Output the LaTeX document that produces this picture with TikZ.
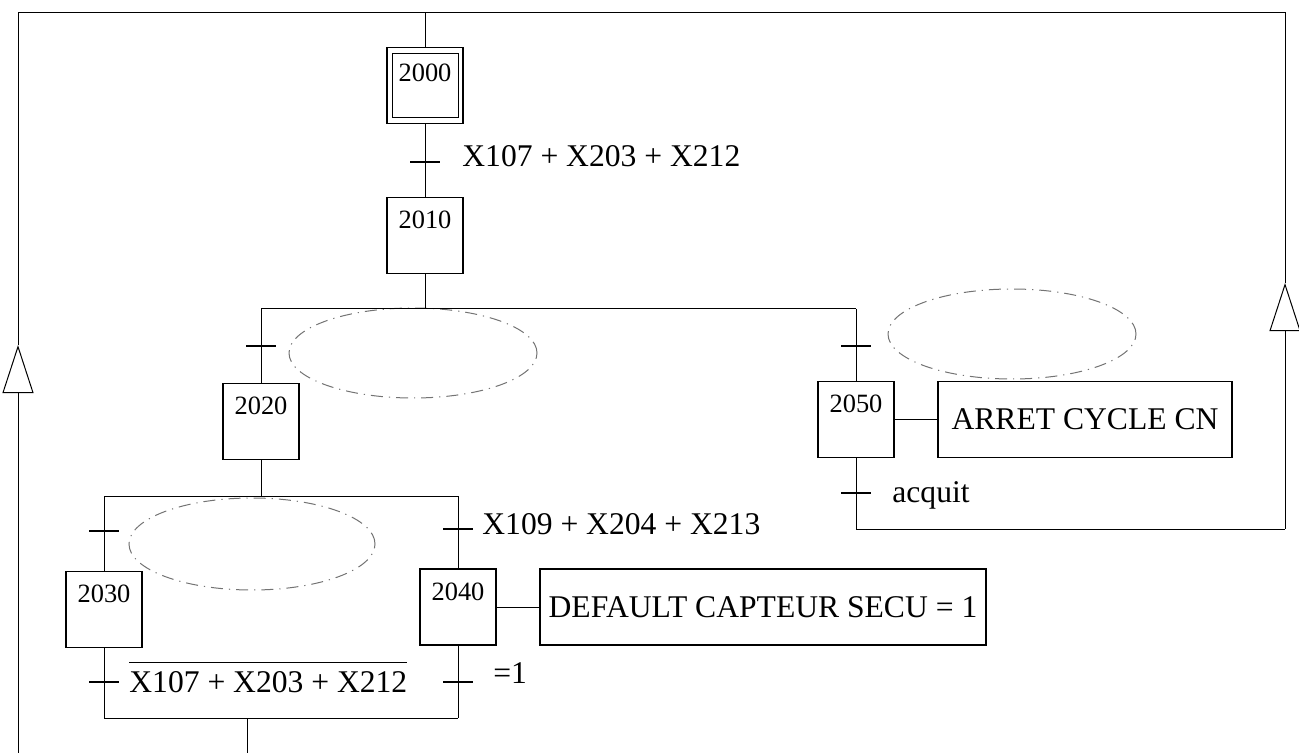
\documentclass[tikz,border=0pt]{standalone}
\usepackage{fontspec}
\setmainfont{Liberation Serif}
\usetikzlibrary{arrows.meta,shapes.geometric}
\newcommand{\condfont}{\fontsize{15.8pt}{19pt}\selectfont}
\newcommand{\numfont}{\fontsize{13.2pt}{16pt}\selectfont}
\tikzset{
  etape/.style={rectangle, draw=black, line width=0.7pt,
                minimum width=38pt, minimum height=38pt, inner sep=0pt,
                text height=15.5pt, text depth=22.5pt, font=\numfont},
  action/.style={rectangle, draw=black, line width=0.6pt,
                 minimum height=38pt, inner sep=0pt, font=\condfont},
  trans/.style={rectangle, fill=black, minimum width=15pt,
                minimum height=0.7pt, inner sep=0pt},
  cond/.style={anchor=base west, inner sep=0pt, font=\condfont},
  zone/.style={ellipse, draw=black!55, line width=0.5pt, inner sep=0pt,
               dash pattern=on 6pt off 3pt on 0.6pt off 3pt},
  lien/.style={line width=0.5pt},
  retour/.style={lien, -{Triangle[open, length=24pt, width=15.5pt]}},
}

\begin{document}
\begin{tikzpicture}[
    x=0.5pt,
    y=-0.5pt,
  ]
    \useasboundingbox (0,0) rectangle (1299,753);

    % Main axis: initial step, first transition, step 2010
    \coordinate (haut)  at (425,13);
    \coordinate (hautG) at (18,13);
    \coordinate (hautD) at (1285,13);
    \node[etape, text height=17pt, text depth=21pt] (s2000) at (425,85.5) {2000};
    \draw[line width=0.6pt] ([shift={(3pt,-3.5pt)}]s2000.north west)
      rectangle ([shift={(-2.5pt,3.5pt)}]s2000.south east);
    \node[trans] (t0) at (425,162) {};
    \node[cond]  (c0) at (462,167) {X107 + X203 + X212};
    \node[etape] (s2010) at (425,235.5) {2010};

    % Divergence after 2010
    \coordinate (div1G) at (261,309);
    \coordinate (div1D) at (856,309);

    % Left branch: 2020, then divergence to 2030 / 2040
    \node[trans] (t1) at (261,346) {};
    \node[zone, minimum width=124pt, minimum height=45pt] (z1) at (413,353) {};
    \node[etape] (s2020) at (261,421.5) {2020};
    \coordinate (div2G) at (104,496);
    \coordinate (div2D) at (458,496);

    \node[trans] (t3) at (104,531) {};
    \node[zone, minimum width=123pt, minimum height=46pt] (z2) at (252,544) {};
    \node[etape] (s2030) at (104,609.5) {2030};
    \node[trans] (t5) at (104,682) {};
    \node[cond]  (c5) at (129,692) {$\overline{\mbox{\rule{0pt}{0.85em}X107 + X203 + X212}}$};

    \node[trans] (t4) at (458,529) {};
    \node[cond]  (c4) at (482,534) {X109 + X204 + X213};
    \node[etape] (s2040) at (458,607) {2040};
    \node[action, minimum width=223pt] (a2040) at (763,607) {DEFAULT CAPTEUR SECU = 1};
    \node[trans] (t6) at (458,682) {};
    \node[cond]  (c6) at (493,683) {=1};

    \coordinate (conv2G) at (104,718);
    \coordinate (conv2D) at (458,718);
    \coordinate (conv2)  at (247,718);
    \coordinate (bas2)   at (247,753);

    % Right branch: 2050 and the acquit loop
    \node[trans] (t2) at (856,346) {};
    \node[zone, minimum width=124pt, minimum height=45pt] (z3) at (1012,334) {};
    \node[etape] (s2050) at (856,419.5) {2050};
    \node[action, minimum width=147pt] (a2050) at (1085,419.5) {ARRET CYCLE CN};
    \node[trans] (t7) at (856,493) {};
    \node[cond]  (c7) at (892,502) {acquit};
    \coordinate (boucle)  at (856,529);
    \coordinate (coinD)   at (1285,529);
    \coordinate (flecheD) at (1285,283);

    % Return line on the left
    \coordinate (basG)    at (18,753);
    \coordinate (flecheG) at (18,345);

    % Links
    \draw[lien] (haut) -- (s2000);
    \draw[lien] (s2000) -- (t0) -- (s2010);
    \draw[lien] (s2010) -- (s2010 |- div1G);
    \draw[lien] (div1G) -- (div1D);
    \draw[lien] (div1G) -- (t1) -- (s2020);
    \draw[lien] (div1D) -- (t2) -- (s2050);
    \draw[lien] (s2050) -- (a2050);
    \draw[lien] (s2050) -- (t7) -- (boucle) -- (coinD);
    \draw[retour] (coinD) -- (flecheD);
    \draw[lien] (flecheD) -- (hautD) -- (hautG) -- (flecheG);
    \draw[retour] (basG) -- (flecheG);

    \draw[lien] (s2020) -- (s2020 |- div2G);
    \draw[lien] (div2G) -- (div2D);
    \draw[lien] (div2G) -- (t3) -- (s2030);
    \draw[lien] (div2D) -- (t4) -- (s2040);
    \draw[lien] (s2040) -- (a2040);
    \draw[lien] (s2030) -- (t5) -- (conv2G);
    \draw[lien] (s2040) -- (t6) -- (conv2D);
    \draw[lien] (conv2G) -- (conv2D);
    \draw[lien] (conv2) -- (bas2);

  \end{tikzpicture}
\end{document}
